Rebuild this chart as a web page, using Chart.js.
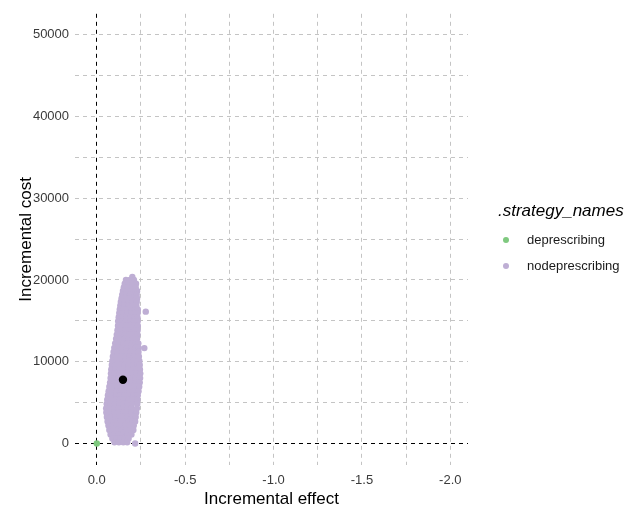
<!DOCTYPE html>
<html>
<head>
<meta charset="utf-8">
<script src="https://cdn.jsdelivr.net/npm/chart.js@4.4.1/dist/chart.umd.min.js"></script>
<style>
  html, body { margin: 0; padding: 0; background: #ffffff; }
  #wrap { position: relative; width: 636px; height: 510px; font-family: "Liberation Sans", Arial, sans-serif; }
  #c { position: absolute; left: 0; top: 0; }
  .lg-title { position: absolute; font-size: 17px; font-style: italic; line-height: 20px; color: #000; white-space: nowrap; }
  .lg-item { position: absolute; font-size: 13px; line-height: 16px; color: #1a1a1a; white-space: nowrap; }
  .lg-dot { position: absolute; width: 6px; height: 6px; border-radius: 50%; }
</style>
</head>
<body>
<div id="wrap">
  <canvas id="c" width="636" height="510"></canvas>
  <div id="legend"></div>
</div>
<script>
// ---------------- data ----------------
const legendTitle = '.strategy_names';
const strategyNames = ['deprescribing', 'nodeprescribing'];

const deprescribingEffect = [0];
const deprescribingCost = [0];

const meanEffect = [-0.148];
const meanCost = [7800];

// nodeprescribing PSA cloud: each cost level with the effects read at that level
const nodeprescribingCost = [
  20370, 20000, 19550, 19100, 18650, 18200, 17750, 17300, 16850, 16400,
  15950, 15450, 14950, 14400, 13850, 13300, 12800, 12250, 11700, 11200,
  10650, 10100, 9600, 9050, 8550, 8000, 7450, 6950, 6400, 5900,
  5350, 4850, 4300, 3800, 3250, 2700, 2200, 1650, 1100, 600,
  150, 0, 16130, 11670
];
const nodeprescribingEffect = [
  [-0.201],
  [-0.165, -0.188, -0.21],
  [-0.158, -0.18, -0.203, -0.222],
  [-0.153, -0.175, -0.198, -0.22],
  [-0.148, -0.17, -0.193, -0.216, -0.228],
  [-0.144, -0.166, -0.189, -0.212, -0.226],
  [-0.14, -0.162, -0.185, -0.208, -0.228],
  [-0.136, -0.158, -0.181, -0.204, -0.226],
  [-0.133, -0.155, -0.178, -0.201, -0.224],
  [-0.13, -0.152, -0.175, -0.198, -0.221, -0.232],
  [-0.127, -0.149, -0.172, -0.195, -0.218, -0.231],
  [-0.124, -0.146, -0.169, -0.192, -0.215, -0.23],
  [-0.121, -0.143, -0.166, -0.189, -0.212, -0.231],
  [-0.12, -0.143, -0.168, -0.191, -0.214, -0.232],
  [-0.117, -0.14, -0.164, -0.188, -0.211, -0.231],
  [-0.113, -0.136, -0.16, -0.185, -0.207, -0.23],
  [-0.109, -0.132, -0.157, -0.181, -0.204, -0.228],
  [-0.104, -0.127, -0.152, -0.176, -0.2, -0.222, -0.235],
  [-0.099, -0.122, -0.147, -0.171, -0.195, -0.219, -0.237],
  [-0.095, -0.118, -0.143, -0.167, -0.191, -0.215, -0.236],
  [-0.091, -0.114, -0.139, -0.163, -0.187, -0.211, -0.238],
  [-0.088, -0.111, -0.136, -0.16, -0.184, -0.208, -0.232, -0.241],
  [-0.085, -0.108, -0.133, -0.157, -0.181, -0.205, -0.229, -0.243],
  [-0.082, -0.105, -0.13, -0.154, -0.178, -0.202, -0.226, -0.244],
  [-0.08, -0.103, -0.127, -0.151, -0.175, -0.199, -0.223, -0.246],
  [-0.078, -0.1, -0.124, -0.148, -0.172, -0.196, -0.22, -0.245],
  [-0.075, -0.098, -0.122, -0.146, -0.17, -0.194, -0.218, -0.243],
  [-0.071, -0.094, -0.118, -0.142, -0.166, -0.19, -0.214, -0.24],
  [-0.067, -0.09, -0.114, -0.138, -0.162, -0.186, -0.21, -0.236],
  [-0.063, -0.086, -0.11, -0.134, -0.158, -0.182, -0.206, -0.232],
  [-0.059, -0.082, -0.106, -0.13, -0.154, -0.178, -0.202, -0.23],
  [-0.056, -0.079, -0.103, -0.127, -0.151, -0.175, -0.199, -0.229],
  [-0.053, -0.076, -0.1, -0.124, -0.148, -0.172, -0.196, -0.227],
  [-0.054, -0.077, -0.101, -0.125, -0.149, -0.173, -0.197, -0.223],
  [-0.057, -0.08, -0.104, -0.128, -0.152, -0.176, -0.2, -0.22],
  [-0.061, -0.084, -0.108, -0.132, -0.156, -0.18, -0.204, -0.217],
  [-0.066, -0.089, -0.113, -0.137, -0.161, -0.185, -0.209],
  [-0.071, -0.094, -0.118, -0.142, -0.166, -0.19, -0.207],
  [-0.078, -0.1, -0.124, -0.148, -0.172, -0.196],
  [-0.088, -0.11, -0.134, -0.158, -0.18],
  [-0.1, -0.125, -0.15, -0.172],
  [-0.217],
  [-0.277],
  [-0.269]
];

const xTickValues = [0, -0.25, -0.5, -0.75, -1, -1.25, -1.5, -1.75, -2];
const xTickLabels = ['0.0', '', '-0.5', '', '-1.0', '', '-1.5', '', '-2.0'];
const yTickValues = [0, 5000, 10000, 15000, 20000, 25000, 30000, 35000, 40000, 45000, 50000];
const yTickLabels = ['0', '', '10000', '', '20000', '', '30000', '', '40000', '', '50000'];

// ---------------- styles ----------------
const FONT = '"Liberation Sans", Arial, sans-serif';
const colorDeprescribing = '#7FC97F';
const colorNodeprescribing = '#BEAED4';
const gridGrey = '#c4c4c4';
const tickGrey = '#3a3a3a';

// ---------------- build ----------------
const toPoints = (xs, ys) => xs.map((x, i) => ({ x: x, y: ys[i] }));
const nodeprescribingPoints = [];
nodeprescribingCost.forEach((cost, i) => {
  nodeprescribingEffect[i].forEach(eff => nodeprescribingPoints.push({ x: eff, y: cost }));
});

const htmlLegend = {
  id: 'htmlLegend',
  afterUpdate(chart) {
    const box = document.getElementById('legend');
    box.innerHTML = '';
    const t = document.createElement('div');
    t.className = 'lg-title';
    t.textContent = legendTitle;
    t.style.left = '498px';
    t.style.top = '201px';
    box.appendChild(t);
    let row = 0;
    chart.data.datasets.forEach(ds => {
      if (ds.legendHidden) return;
      const cy = 240 + row * 26;
      const dot = document.createElement('div');
      dot.className = 'lg-dot';
      dot.style.background = ds.backgroundColor;
      dot.style.left = '503px';
      dot.style.top = (cy - 3) + 'px';
      box.appendChild(dot);
      const lab = document.createElement('div');
      lab.className = 'lg-item';
      lab.textContent = ds.label;
      lab.style.left = '527px';
      lab.style.top = (cy - 8) + 'px';
      box.appendChild(lab);
      row++;
    });
  }
};

const gridColor = ctx => (ctx.tick && ctx.tick.value === 0) ? '#000000' : gridGrey;

new Chart(document.getElementById('c'), {
  type: 'scatter',
  data: {
    datasets: [
      {
        label: strategyNames[0],
        data: toPoints(deprescribingEffect, deprescribingCost),
        backgroundColor: colorDeprescribing,
        borderWidth: 0,
        pointRadius: 3.2
      },
      {
        label: strategyNames[1],
        data: nodeprescribingPoints,
        backgroundColor: colorNodeprescribing,
        borderWidth: 0,
        pointRadius: 3.2
      },
      {
        label: 'mean',
        legendHidden: true,
        data: toPoints(meanEffect, meanCost),
        backgroundColor: '#000000',
        borderWidth: 0,
        pointRadius: 4.2,
        order: -1
      }
    ]
  },
  options: {
    responsive: false,
    animation: false,
    events: [],
    devicePixelRatio: 1,
    layout: { padding: { left: 12.5, right: 168, top: 12, bottom: 0 } },
    plugins: {
      legend: { display: false },
      tooltip: { enabled: false }
    },
    scales: {
      x: {
        type: 'linear',
        reverse: true,
        min: -2.1,
        max: 0.123,
        afterBuildTicks: s => { s.ticks = xTickValues.map(v => ({ value: v })); },
        ticks: {
          autoSkip: false,
          maxRotation: 0,
          padding: 8,
          color: tickGrey,
          font: { family: FONT, size: 13 },
          callback: (v, i) => xTickLabels[i]
        },
        grid: { color: gridColor, lineWidth: 1, drawTicks: false },
        border: { display: false, dash: [4, 4] },
        title: {
          display: true,
          text: 'Incremental effect',
          color: '#000000',
          font: { family: FONT, size: 17 },
          padding: { top: -7, bottom: 0 }
        }
      },
      y: {
        type: 'linear',
        min: -2630,
        max: 52560,
        afterBuildTicks: s => { s.ticks = yTickValues.map(v => ({ value: v })); },
        ticks: {
          autoSkip: false,
          padding: 6,
          color: tickGrey,
          font: { family: FONT, size: 13 },
          callback: (v, i) => yTickLabels[i]
        },
        grid: { color: gridColor, lineWidth: 1, drawTicks: false },
        border: { display: false, dash: [4, 4] },
        title: {
          display: true,
          text: 'Incremental cost',
          color: '#000000',
          font: { family: FONT, size: 17 },
          padding: { top: 3.5, bottom: -9.5 }
        }
      }
    }
  },
  plugins: [htmlLegend]
});
</script>
</body>
</html>
